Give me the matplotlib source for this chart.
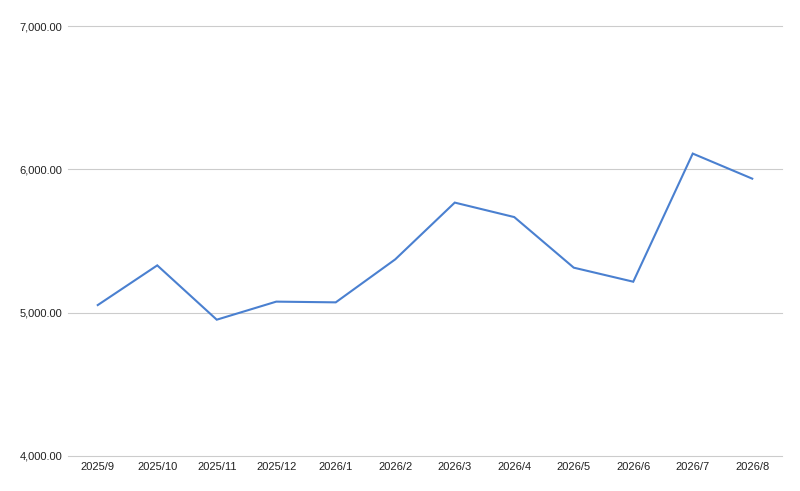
import matplotlib
matplotlib.use("Agg")
import matplotlib.pyplot as plt
from matplotlib.ticker import FuncFormatter

plt.rcParams['font.family'] = ['Liberation Sans', 'DejaVu Sans']

# Monthly values
months = ['2025/9', '2025/10', '2025/11', '2025/12', '2026/1', '2026/2',
          '2026/3', '2026/4', '2026/5', '2026/6', '2026/7', '2026/8']
values = [5053, 5330, 4951, 5077, 5072, 5372,
          5768, 5667, 5314, 5216, 6110, 5935]
y_ticks = [4000, 5000, 6000, 7000]


def main():
    fig = plt.figure(figsize=(8, 4.91), dpi=100)
    ax = fig.add_axes([0.085, 0.0713, 0.8925, 0.8757])

    x = range(len(months))
    ax.plot(x, values, color='#4a80d0', linewidth=1.5, solid_joinstyle='miter')

    ax.set_xlim(-0.5, len(months) - 0.5)
    ax.set_ylim(4000, 7000)
    ax.set_yticks(y_ticks)
    ax.yaxis.set_major_formatter(FuncFormatter(lambda v, p: f'{v:,.2f}'))
    ax.set_xticks(list(x))
    ax.set_xticklabels(months)

    ax.grid(axis='y', color='#cccccc', linewidth=0.8)
    # keep the 4,000 and 7,000 gridlines visible at the edges
    for line in ax.get_ygridlines():
        line.set_clip_on(False)
    ax.set_axisbelow(True)
    for side in ['top', 'right', 'left', 'bottom']:
        ax.spines[side].set_visible(False)
    ax.tick_params(axis='both', length=0, labelsize=8, colors='#222222')
    ax.tick_params(axis='y', pad=4)
    ax.tick_params(axis='x', pad=4)

    fig.savefig('out.png', dpi=100, facecolor='white')


if __name__ == "__main__":
    main()
